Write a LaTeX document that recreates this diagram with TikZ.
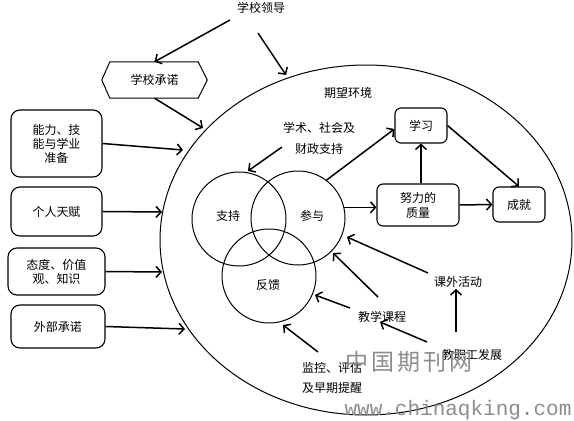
\documentclass[tikz,border=0pt]{standalone}
\usepackage{fontspec}
\setmainfont{Liberation Serif}
\newfontfamily\cjk{Noto Sans CJK SC}
\newfontfamily\monofam{Liberation Mono}
\usetikzlibrary{arrows.meta,shapes.geometric}
\begin{document}
\begin{tikzpicture}[x=1pt,y=-1pt,
  font=\cjk\fontsize{12}{14}\selectfont,
  arr/.style={line width=1.5pt,-{Straight Barb[length=5pt,width=11pt]}},
  lbox/.style={draw,line width=1.1pt,rounded corners=9pt,minimum width=91pt,inner sep=0pt,align=center},
  rbox/.style={draw,line width=1.1pt,rounded corners=6pt,inner sep=0pt,align=center},
  venn/.style={draw,circle,line width=1pt,minimum size=94pt,inner sep=0pt},
  lbl/.style={inner sep=1pt,align=center}]
\useasboundingbox (0,0) rectangle (574,421);

% environment ellipse
\node[draw,ellipse,line width=1pt,minimum width=412pt,minimum height=350pt,inner sep=0pt] (env) at (366,240) {};
\node[lbl] (qw) at (348,93) {期望环境};

% venn circles
\node[venn] (zc) at (239,219) {};
\node[venn] (cy) at (298,218) {};
\node[venn] (fk) at (269,276) {};
\node[lbl] (zct) at (228,216) {支持};
\node[lbl] (cyt) at (312,216) {参与};
\node[lbl] (fkt) at (268,285) {反馈};

% right boxes
\node[rbox,minimum width=52pt,minimum height=35pt] (xx) at (421,125.5) {学习};
\node[rbox,minimum width=82pt,minimum height=42pt,font=\cjk\fontsize{12}{15}\selectfont] (nl) at (418,205) {努力的\\质量};
\node[rbox,minimum width=52pt,minimum height=35pt] (cj) at (519,204.5) {成就};

% top
\node[lbl] (ld) at (261,8) {学校领导};
\node[minimum width=105pt,minimum height=36pt,inner sep=0pt] (sc) at (154.5,80) {学校承诺};
\draw[line width=1pt] (sc.west) -- ([xshift=8pt]sc.north west) -- ([xshift=-9pt]sc.north east) -- (sc.east)
  -- ([xshift=-9pt]sc.south east) -- ([xshift=8pt]sc.south west) -- cycle;
\node[lbl,font=\cjk\fontsize{12}{21}\selectfont] (xs) at (319,138) {学术、社会及\\财政支持};

% left boxes
\node[lbox,minimum height=67pt] (b1) at (56.5,143.5) {能力、技\\能与学业\\准备};
\node[lbox,minimum height=49pt] (b2) at (56.5,211.5) {个人天赋};
\node[lbox,minimum width=97pt,minimum height=47pt] (b3) at (56.5,271.5) {态度、价值\\观、知识};
\node[lbox,minimum width=94pt,minimum height=43pt] (b4) at (58,326.5) {外部承诺};

% lower texts
\node[lbl] (kw) at (458,282) {课外活动};
\node[lbl] (jx) at (382,317) {教学课程};
\node[lbl] (jz) at (472,355) {教职工发展};
\node[lbl,font=\cjk\fontsize{12}{20}\selectfont] (jk) at (332,378) {监控、评估\\及早期提醒};

% coordinates
\coordinate (l1) at (230,20);
\coordinate (l2) at (258,33);
\coordinate (e1) at (286,75);
\coordinate (e2) at (203,128);
\coordinate (e3) at (183,150);
\coordinate (e4) at (162,212);
\coordinate (e5) at (162,272);
\coordinate (e6) at (185,329);
\coordinate (xsa) at (282,147);
\coordinate (zca) at (248,171);
\coordinate (k1) at (428,273);
\coordinate (k2) at (347,237);
\coordinate (j1) at (378,297);
\coordinate (j2) at (333,253);
\coordinate (j3) at (350,308);
\coordinate (j4) at (315,295);
\coordinate (z1) at (456,332);
\coordinate (z2) at (456,289);
\coordinate (z3) at (427,342);
\coordinate (z4) at (380,322);
\coordinate (m1) at (318,352);
\coordinate (m2) at (283,325);

% arrows
\draw[arr] (l1) -- (sc.north);
\draw[arr] (l2) -- (e1);
\draw[arr] (sc.south) -- (e2);
\draw[arr] (b1.east) -- (e3);
\draw[arr] (b2.east) -- (e4);
\draw[arr] (b3.east) -- (e5);
\draw[arr] (b4.east) -- (e6);
\draw[arr] (xsa) -- (zca);
\draw[arr] (cy.53) -- ([yshift=-3.5pt]xx.west);
\draw[arr] (cy.13) -- (cy.13 -| nl.west);
\draw[arr] (xx.south |- nl.north) -- (xx.south);
\draw[arr] (xx.east) -- (cj.north);
\draw[arr] (nl.east) -- (cj.west);
\draw[arr] (k1) -- (k2);
\draw[arr] (j1) -- (j2);
\draw[arr] (j3) -- (j4);
\draw[arr] (z1) -- (z2);
\draw[arr] (z3) -- (z4);
\draw[arr] (m1) -- (m2);

% watermark
\node[text=black!45,font=\cjk\fontsize{23}{23}\selectfont] (wm1) at (409,362) {中\hspace{3pt}国\hspace{3pt}期\hspace{3pt}刊\hspace{3pt}网};
\node[text=black!45,font=\monofam\fontsize{21}{21}\selectfont] (wm2) at (458,410) {www.chinaqking.com};
\end{tikzpicture}
\end{document}
